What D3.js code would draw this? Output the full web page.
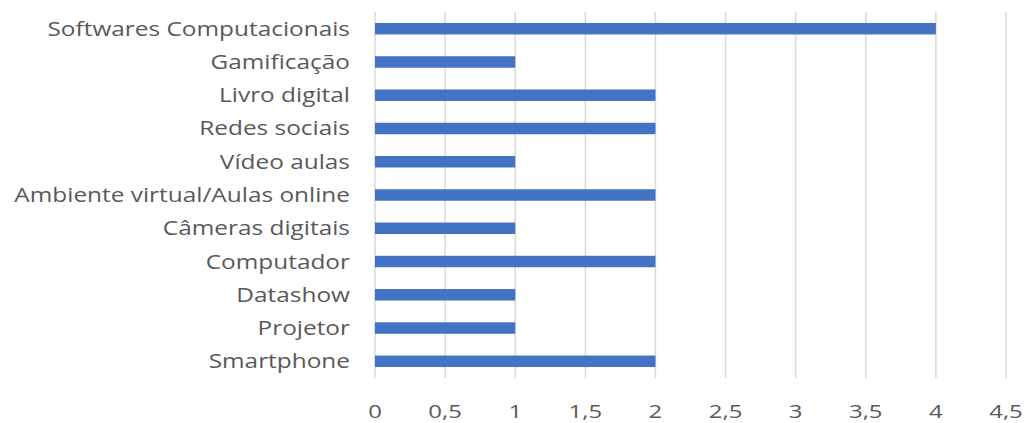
<!DOCTYPE html>
<html><head><meta charset="utf-8">
<script src="https://cdn.jsdelivr.net/npm/d3@7"></script>
<style>body{margin:0;background:#fff}svg{display:block}</style>
</head><body>
<script>
const categories = ["Softwares Computacionais","Gamificação","Livro digital","Redes sociais","Vídeo aulas","Ambiente virtual/Aulas online","Câmeras digitais","Computador","Datashow","Projetor","Smartphone"];
const values = [4,1,2,2,1,2,1,2,1,1,2];
const tickValues = [0,0.5,1,1.5,2,2.5,3,3.5,4,4.5];
const tickLabels = ["0","0,5","1","1,5","2","2,5","3","3,5","4","4,5"];

const W = 1026, H = 423;
const svg = d3.select("body").append("svg").attr("width", W).attr("height", H);
const x = d3.scaleLinear().domain([0,4.5]).range([375,1006]);
const y = d3.scaleBand().domain(categories).range([12,378]).paddingInner(0.655).paddingOuter(0.33);

const font = "'Open Sans', sans-serif";
const sx = 1.22;
svg.append("g").selectAll("line").data(tickValues).join("line")
  .attr("x1", d=>x(d)).attr("x2", d=>x(d)).attr("y1", 12).attr("y2", 378)
  .attr("stroke", "#d9d9d9").attr("stroke-width", 1.5);

svg.append("g").selectAll("rect").data(categories).join("rect")
  .attr("x", x(0)).attr("y", d=>y(d)).attr("height", y.bandwidth())
  .attr("width", (d,i)=>x(values[i])-x(0)).attr("fill", "#4472c4");

svg.append("g").selectAll("text").data(categories).join("text")
  .attr("transform", d=>`translate(350,${y(d)+y.bandwidth()/2}) scale(${sx},1)`)
  .attr("dy","0.35em")
  .attr("text-anchor","end").attr("fill","#595959")
  .style("font-family", font).style("font-size","20px").text(d=>d);

svg.append("g").selectAll("text").data(tickValues).join("text")
  .attr("transform", d=>`translate(${x(d)},411) scale(1.26,1)`)
  .attr("dy","0.35em")
  .attr("text-anchor","middle").attr("fill","#595959")
  .style("font-family", font).style("font-size","19px").text((d,i)=>tickLabels[i]);
</script>
</body></html>
